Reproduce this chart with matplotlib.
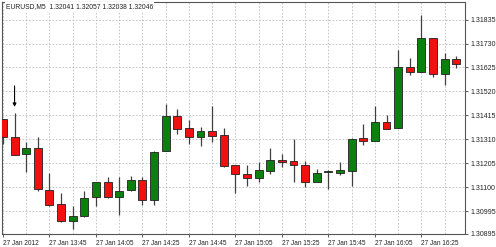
import numpy as np
import matplotlib
matplotlib.use("Agg")
from matplotlib import pyplot as plt

plt.rcParams["font.family"] = ["Liberation Sans", "DejaVu Sans"]

# EURUSD M5 candles
opens = [1.31398, 1.31319, 1.31246, 1.31272, 1.31088, 1.31025, 1.30952, 1.30974,
         1.31056, 1.31123, 1.31058, 1.31088, 1.31133, 1.31044, 1.31259, 1.31412,
         1.31358, 1.31321, 1.31346, 1.31329, 1.31199, 1.31158, 1.31140, 1.31172,
         1.31221, 1.31214, 1.31199, 1.31123, 1.31167, 1.31161, 1.31172, 1.31316,
         1.31301, 1.31386, 1.31360, 1.31628, 1.31605, 1.31754, 1.31596, 1.31661]
highs = [1.31400, 1.31427, 1.31300, 1.31319, 1.31164, 1.31076, 1.31018, 1.31085,
         1.31123, 1.31146, 1.31146, 1.31149, 1.31146, 1.31260, 1.31465, 1.31444,
         1.31395, 1.31365, 1.31456, 1.31358, 1.31199, 1.31196, 1.31211, 1.31272,
         1.31246, 1.31310, 1.31214, 1.31179, 1.31176, 1.31211, 1.31314, 1.31376,
         1.31456, 1.31415, 1.31701, 1.31665, 1.31856, 1.31754, 1.31687, 1.31675]
lows = [1.31289, 1.31241, 1.31168, 1.31082, 1.31019, 1.30949, 1.30918, 1.30971,
        1.31018, 1.31054, 1.30980, 1.31085, 1.31021, 1.31023, 1.31259, 1.31332,
        1.31289, 1.31281, 1.31300, 1.31190, 1.31073, 1.31105, 1.31124, 1.31158,
        1.31190, 1.31123, 1.31102, 1.31123, 1.31094, 1.31155, 1.31105, 1.31285,
        1.31301, 1.31354, 1.31360, 1.31591, 1.31605, 1.31584, 1.31549, 1.31623]
closes = [1.31319, 1.31243, 1.31272, 1.31091, 1.31023, 1.30952, 1.30974, 1.31051,
          1.31123, 1.31058, 1.31085, 1.31132, 1.31044, 1.31256, 1.31412, 1.31357,
          1.31321, 1.31346, 1.31325, 1.31194, 1.31157, 1.31140, 1.31176, 1.31219,
          1.31211, 1.31197, 1.31123, 1.31164, 1.31167, 1.31176, 1.31310, 1.31303,
          1.31386, 1.31357, 1.31628, 1.31605, 1.31754, 1.31596, 1.31661, 1.31640]

price_ticks = [1.30895, 1.30995, 1.31100, 1.31205, 1.31310, 1.31415,
               1.31520, 1.31625, 1.31730, 1.31835]
time_labels = ["27 Jan 2012", "27 Jan 13:45", "27 Jan 14:05", "27 Jan 14:25",
               "27 Jan 14:45", "27 Jan 15:05", "27 Jan 15:25", "27 Jan 15:45",
               "27 Jan 16:05", "27 Jan 16:25"]
header = "EURUSD,M5  1.32041 1.32057 1.32038 1.32046"
arrow_bar = 1
arrow_from, arrow_to = 1.31544, 1.31452

up_col = "#0c800c"
dn_col = "#f01010"

fig = plt.figure(figsize=(4.96, 2.47), dpi=100)
ax = fig.add_axes([2 / 496, 13 / 247, 463 / 496, 232 / 247])

x = np.arange(len(opens))
o = np.array(opens); c = np.array(closes)
h = np.array(highs); l = np.array(lows)
up = c >= o

ax.vlines(x, l, h, color="#404040", linewidth=0.9, zorder=2)
bottom = np.minimum(o, c)
height = np.abs(c - o)
height = np.where(height < 0.00003, 0.00003, height)
ax.bar(x, height, bottom=bottom, width=0.68,
       color=np.where(up, up_col, dn_col), edgecolor="#202020",
       linewidth=0.6, zorder=3)

ax.annotate("", xy=(arrow_bar, arrow_to), xytext=(arrow_bar, arrow_from),
            arrowprops=dict(arrowstyle="-|>", color="black", lw=0.8,
                            mutation_scale=5, shrinkA=0, shrinkB=0), zorder=4)

ax.set_xlim(-0.08, 39.75)
ax.set_ylim(1.30895, 1.31912)

ax.set_yticks(price_ticks)
ax.set_yticklabels(["%.5f" % v for v in price_ticks])
ax.yaxis.tick_right()
ax.set_xticks(np.arange(0, 40, 4))
ax.set_xticklabels(time_labels, ha="left")
ax.tick_params(axis="both", length=2.5, width=0.6,
               colors="#444444", labelcolor="#222222", pad=1.5)
ax.tick_params(axis="x", labelsize=4.7)
ax.tick_params(axis="y", labelsize=5.0)

ax.set_xticks(np.arange(0, 40, 2), minor=True)
ax.tick_params(axis="x", which="minor", length=0)
ax.grid(True, which="both", axis="x", color="#bdbdbd", linestyle=(0, (2, 2)),
        linewidth=0.6, zorder=0)
ax.grid(True, which="major", axis="y", color="#bdbdbd", linestyle=(0, (2, 2)),
        linewidth=0.6, zorder=0)

for s in ax.spines.values():
    s.set_color("#555555")
    s.set_linewidth(0.8)

ax.text(0.008, 0.995, header, transform=ax.transAxes, fontsize=4.85,
        va="top", ha="left", color="#222222",
        bbox=dict(facecolor="white", edgecolor="none", pad=0.5), zorder=5)

fig.savefig("out.png", dpi=100)
